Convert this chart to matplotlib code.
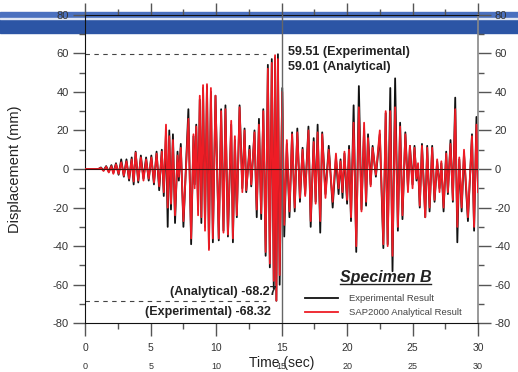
import matplotlib
matplotlib.use("Agg")
import matplotlib.pyplot as plt
from matplotlib.patches import Rectangle
from matplotlib.lines import Line2D

plt.rcParams['font.family'] = ['Liberation Sans', 'DejaVu Sans']
plt.rcParams['axes.unicode_minus'] = False

# peak / trough values (time s, displacement mm)
time_s = [0.00, 1.00, 1.20, 1.40, 1.60, 1.80, 2.00, 2.15, 2.35, 2.55, 2.75, 2.95,
          3.15, 3.35, 3.55, 3.70, 3.85, 4.05, 4.25, 4.45, 4.65, 4.85, 5.05, 5.25,
          5.45, 5.65, 5.85, 6.00, 6.17, 6.30, 6.42, 6.55, 6.70, 6.86, 7.05, 7.15,
          7.30, 7.50, 7.88, 8.09, 8.27, 8.36, 8.48, 8.62, 8.75, 8.87, 9.00, 9.15,
          9.30, 9.45, 9.60, 9.75, 9.95, 10.20, 10.38, 10.56, 10.71, 10.90, 11.15, 11.28,
          11.43, 11.58, 11.79, 12.00, 12.17, 12.30, 12.55, 12.68, 12.93, 13.10, 13.27, 13.44,
          13.60, 13.78, 13.95, 14.10, 14.25, 14.40, 14.50, 14.60, 14.72, 14.85, 15.05, 15.20,
          15.40, 15.60, 15.80, 16.00, 16.20, 16.40, 16.60, 16.80, 17.05, 17.22, 17.45, 17.60,
          17.75, 17.95, 18.10, 18.35, 18.60, 18.90, 19.15, 19.35, 19.50, 19.65, 19.80, 20.00,
          20.15, 20.30, 20.50, 20.70, 20.90, 21.10, 21.30, 21.45, 21.60, 21.80, 21.95, 22.20,
          22.50, 22.77, 22.95, 23.10, 23.30, 23.47, 23.67, 23.88, 24.05, 24.23, 24.45, 24.65,
          24.80, 25.00, 25.15, 25.30, 25.42, 25.55, 25.72, 25.97, 26.12, 26.30, 26.50, 26.68,
          26.88, 27.06, 27.20, 27.37, 27.57, 27.70, 27.90, 28.08, 28.26, 28.42, 28.57, 28.75,
          28.93, 29.23, 29.54, 29.70, 29.88, 30.00]

exp_mm = [0, 0, 0.8, -0.8, 1.5, -1.5, 2.0, -2.0, 3.0, -3.0, 5.0, -4.0,
          5.0, -6.0, 6.0, -8.0, 9.0, -7.0, 7.0, -5.0, 6.0, -6.0, 7.0, -8.0,
          9.0, -11.0, 10.0, -14.0, 19.0, -30.0, 20.0, -21.0, 18.0, -28.0, 9.0, -6.0,
          13.0, -30.0, 31.0, -39.0, 17.0, -8.0, 23.0, -21.0, 36.0, -28.0, 42.0, -30.0,
          43.0, -41.0, 40.0, -38.0, 38.0, -37.0, 31.0, -32.0, 33.0, -35.0, 23.0, -38.0,
          15.0, -25.0, 33.0, -10.0, 21.0, -12.0, 12.0, -9.0, 20.0, -25.0, 26.0, -26.0,
          31.0, -45.0, 54.0, -51.0, 57.0, -62.0, 58.0, -68.32, 59.51, -60.0, 42.0, -35.0,
          13.0, -25.0, 19.0, -22.0, 21.0, -17.0, 11.0, -13.0, 22.0, -30.0, 16.0, -17.0,
          23.0, -33.0, 19.0, -13.0, 12.0, -20.0, 6.0, -13.0, 5.0, -15.0, 8.0, -18.0,
          12.0, -27.0, 33.0, -43.0, 43.0, -21.0, 21.0, -19.0, 18.0, -8.0, 12.0, -4.0,
          18.0, -41.0, 29.0, -39.0, 42.0, -53.0, 47.0, -32.0, 24.0, -26.0, 19.0, -10.0,
          12.0, -8.0, 12.0, -6.0, 2.0, -20.0, 13.0, -25.0, 12.0, -22.0, 12.0, -17.0,
          4.0, -10.0, 3.0, -22.0, 9.0, -13.0, 15.0, -17.0, 37.0, -38.0, 5.0, -22.0,
          8.0, -27.0, 18.0, -32.0, 27.0, -10.0]

sap_mm = [0, 0, 0.6, -1.0, 1.2, -1.8, 1.5, -2.5, 2.5, -2.5, 3.5, -3.5,
          4.0, -5.0, 5.0, -6.5, 8.5, -6.0, 6.0, -6.0, 5.0, -5.0, 6.0, -7.0,
          8.0, -9.0, 9.0, -12.0, 23.0, -20.0, 17.0, -18.0, 15.0, -24.0, 7.0, -4.0,
          11.0, -27.0, 26.0, -36.0, 18.0, -10.0, 22.0, -24.0, 38.0, -25.0, 43.5, -32.0,
          44.0, -42.0, 42.0, -36.0, 38.0, -36.0, 30.0, -33.0, 31.0, -34.0, 25.0, -36.0,
          17.0, -24.0, 32.0, -12.0, 20.0, -11.0, 10.0, -8.0, 19.0, -21.0, 23.0, -23.0,
          30.0, -43.0, 52.0, -49.0, 55.0, -58.0, 59.01, -68.27, 57.0, -55.0, 40.0, -29.0,
          15.0, -22.0, 18.0, -20.0, 19.0, -15.0, 10.0, -14.0, 20.0, -27.0, 14.0, -18.0,
          19.0, -27.0, 18.0, -15.0, 10.0, -17.0, 8.0, -10.0, 4.0, -12.0, 9.0, -16.0,
          10.0, -25.0, 24.0, -40.0, 32.0, -22.0, 24.0, -17.0, 16.0, -9.0, 11.0, -3.0,
          20.0, -39.0, 30.0, -40.0, 30.0, -45.0, 32.0, -30.0, 22.0, -24.0, 18.0, -12.0,
          12.0, -10.0, 11.0, -5.0, 3.0, -19.0, 12.0, -25.0, 11.0, -20.0, 11.0, -16.0,
          5.0, -12.0, 4.0, -20.0, 8.0, -12.0, 13.0, -16.0, 31.0, -30.0, 6.0, -20.0,
          10.0, -25.0, 17.0, -30.0, 23.0, -12.0]

xticks = [0, 5, 10, 15, 20, 25, 30]
yticks = [-80, -60, -40, -20, 0, 20, 40, 60, 80]
max_exp, max_sap = 59.51, 59.01
min_exp, min_sap = -68.32, -68.27

fig = plt.figure(figsize=(5.18, 3.72), dpi=100)
ax = fig.add_axes([0.1645, 0.1309, 0.7583, 0.8296])
ax.set_facecolor('none')

# blue band across the top of the image
fig.add_artist(Rectangle((0, 0.9538), 1, 0.0132, transform=fig.transFigure,
                         color='#4a70bf', zorder=-5))
fig.add_artist(Rectangle((0, 0.9121), 1, 0.0368, transform=fig.transFigure,
                         color='#2c55a5', zorder=-5))
fig.add_artist(Rectangle((0, 0.9497), 1, 0.0030, transform=fig.transFigure,
                         color='#dfe6f4', zorder=-4))

ax.plot(time_s, exp_mm, color='#111111', lw=1.3, label='Experimental Result', zorder=2)
ax.plot(time_s, sap_mm, color='#ee1c25', lw=1.3, label='SAP2000 Analytical Result', zorder=3)
ax.axhline(0, color='#3a1010', lw=0.8, zorder=4)
ax.axvline(15, color='#666666', lw=1.0, zorder=5)

# peak markers
ax.plot([0, 13.8], [max_exp, max_exp], color='#444444', lw=0.8, dashes=(4, 4))
ax.plot([0, 13.8], [min_exp, min_exp], color='#444444', lw=0.8, dashes=(4, 4))
ax.text(15.5, 60.6, f'{max_exp} (Experimental)', fontsize=9, fontweight='bold',
        color='#222222', va='center', ha='left')
ax.text(15.5, 53.0, f'{max_sap} (Analytical)', fontsize=9, fontweight='bold',
        color='#222222', va='center', ha='left')
ax.text(14.6, -63.6, f'(Analytical) {min_sap}', fontsize=9, fontweight='bold',
        color='#222222', va='center', ha='right')
ax.text(14.15, -74.0, f'(Experimental) {min_exp}', fontsize=9, fontweight='bold',
        color='#222222', va='center', ha='right')

spec = ax.text(22.95, -56.5, 'Specimen B', fontsize=11.5, fontweight='bold',
               fontstyle='italic', color='#222222', ha='center', va='center')

leg = ax.legend(loc='center left', bbox_to_anchor=(0.5595, 0.0576), frameon=False,
                fontsize=6.8, handlelength=3.5, handletextpad=1.2, labelspacing=0.55,
                borderpad=0, borderaxespad=0)
for t in leg.get_texts():
    t.set_color('#444444')

ax.set_xlim(0, 30)
ax.set_ylim(-80, 80)
ax.set_xticks(xticks)
ax.set_xticks([2.5, 7.5, 12.5, 17.5, 22.5, 27.5], minor=True)
ax.set_yticks(yticks)
ax.set_yticks([-70, -50, -30, -10, 10, 30, 50, 70], minor=True)
ax.tick_params(which='major', direction='out', length=9, width=1.0, color='#555555',
               labelsize=8, labelcolor='#333333', pad=3,
               top=True, right=True, labelright=True)
ax.tick_params(which='minor', direction='out', length=4.3, width=1.0, color='#555555',
               top=True, right=True)
ax.tick_params(axis='x', which='major', labelsize=7.5, pad=5)
for s in ['left', 'bottom', 'top']:
    ax.spines[s].set_color('#111111')
ax.spines['right'].set_color('#888888')
ax.spines['right'].set_linewidth(1.2)

# second row of time labels
for xv in xticks:
    ax.text(xv, -0.1409, str(xv), transform=ax.get_xaxis_transform(), fontsize=6.5,
            ha='center', va='center', color='#333333')

ax.set_xlabel('Time (sec)', fontsize=10, color='#222222', va='center')
ax.xaxis.set_label_coords(0.5, -0.1286)
ax.set_ylabel('Displacement (mm)', fontsize=10.5, color='#222222')
ax.yaxis.set_label_coords(-0.161, 0.5)

# underline the specimen title
fig.canvas.draw()
bb = spec.get_window_extent()
fig.add_artist(Line2D([bb.x0, bb.x1], [bb.y0 + 1, bb.y0 + 1], transform=None,
                      color='#222222', lw=1.0))

fig.savefig('out.png', dpi=100)
